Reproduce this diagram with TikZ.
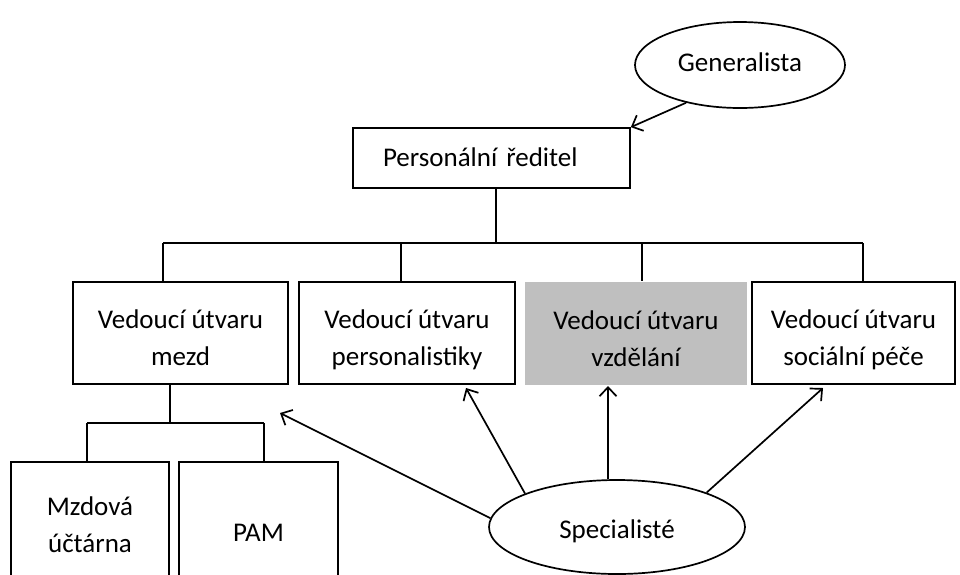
\documentclass[tikz,border=0pt]{standalone}
\usepackage{fontspec}
\setmainfont{Carlito}
\usetikzlibrary{arrows.meta,shapes.geometric,calc}
\definecolor{boxgrey}{RGB}{191,191,191}
\newcommand{\tstr}[1]{\rule{0pt}{#1}}
\newcommand{\bstr}{\rule[-7pt]{0pt}{7pt}}
\tikzset{
  box/.style={draw=black, line width=1.7pt, rectangle, inner sep=0pt, align=center, font=\fontsize{27}{37}\selectfont},
  oval/.style={draw=black, line width=1.7pt, ellipse, inner sep=0pt, font=\fontsize{27}{30}\selectfont},
  conn/.style={line width=1.7pt},
  arr/.style={line width=1.7pt, -{Straight Barb[length=9pt,width=17pt]}}
}
\begin{document}
\begin{tikzpicture}[x=1pt,y=-1pt]
\path[use as bounding box] (0,0) rectangle (960,574);
\clip (0,0) rectangle (960,574);
% nodes
\node[oval, minimum width=210pt, minimum height=86pt] (gen) at (740,65) {\tstr{20pt}\bstr Generalista};
\node[box, minimum width=277pt, minimum height=60pt, text width=217pt, align=left, inner xsep=30pt] (dir) at (491.5,158) {\tstr{23pt}\bstr Personální ředitel};
\node[box, minimum width=215pt, minimum height=102pt] (b1) at (180.5,333) {\tstr{35pt}Vedoucí útvaru\\\bstr mezd};
\node[box, minimum width=216pt, minimum height=102pt] (b2) at (407,333) {\tstr{35pt}Vedoucí útvaru\\\bstr personalistiky};
\node[box, draw=none, fill=boxgrey, minimum width=222pt, minimum height=103pt] (b3) at (636,333.5) {\tstr{35pt}Vedoucí útvaru\\\bstr vzdělání};
\node[box, minimum width=203pt, minimum height=102pt] (b4) at (853.5,333) {\tstr{35pt}Vedoucí útvaru\\\bstr sociální péče};
\node[box, minimum width=158pt, minimum height=130pt] (m1) at (90,527) {\tstr{21pt}Mzdová\\\bstr účtárna};
\node[box, minimum width=159pt, minimum height=130pt] (m2) at (258.5,527) {\tstr{35pt}\bstr PAM};
\node[oval, minimum width=256pt, minimum height=94pt] (sp) at (617,527) {\tstr{29pt}\bstr Specialisté};
% tree coordinates
\coordinate (top) at (496,243);
\coordinate (s1) at (163,243);
\coordinate (s2) at (401,243);
\coordinate (s3) at (642,243);
\coordinate (s4) at (863,243);
\coordinate (sub) at (170,423);
\coordinate (u1) at (87,423);
\coordinate (u2) at (264,423);
% tree connectors
\draw[conn] (top |- dir.south) -- (top);
\draw[conn] (s1) -- (s4);
\draw[conn] (s1) -- (s1 |- b1.north);
\draw[conn] (s2) -- (s2 |- b2.north);
\draw[conn] (s3) -- (s3 |- b3.north);
\draw[conn] (s4) -- (s4 |- b4.north);
\draw[conn] (sub |- b1.south) -- (sub);
\draw[conn] (u1) -- (u2);
\draw[conn] (u1) -- (u1 |- m1.north);
\draw[conn] (u2) -- (u2 |- m2.north);
% arrows
\coordinate (t1) at (280,413);
\coordinate (t2) at (466,388);
\coordinate (t3) at (608,386);
\coordinate (t4) at (823,388);
\draw[arr] (gen.215) -- (dir.north east);
\draw[arr] (sp.176) -- (t1);
\draw[arr] (sp.160) -- (t2);
\draw[arr] (t3 |- sp.north) -- (t3);
\draw[arr] (sp.21) -- (t4);
\end{tikzpicture}
\end{document}
